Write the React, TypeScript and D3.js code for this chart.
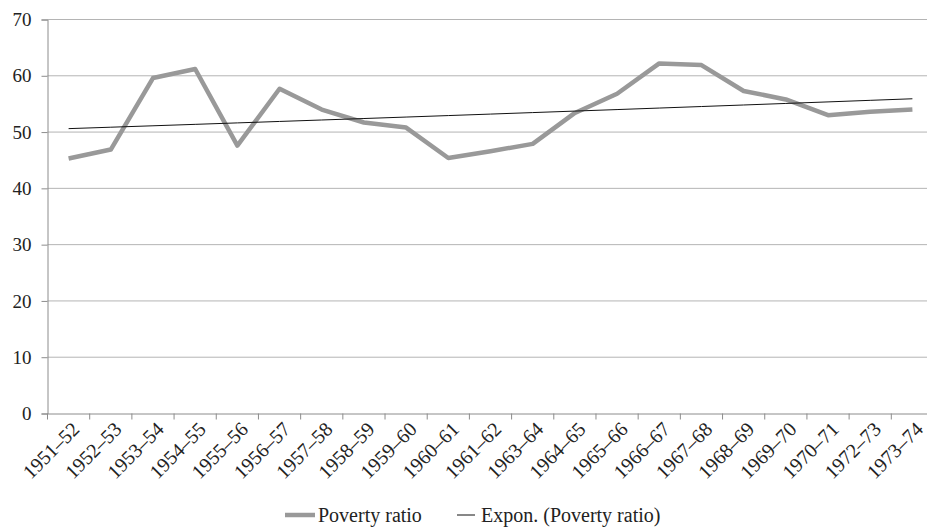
// Poverty ratio line chart with exponential trend
import React, { useEffect, useRef } from "react";
import * as d3 from "d3";

const years = [
  "1951–52", "1952–53", "1953–54", "1954–55", "1955–56", "1956–57", "1957–58",
  "1958–59", "1959–60", "1960–61", "1961–62", "1963–64", "1964–65", "1965–66",
  "1966–67", "1967–68", "1968–69", "1969–70", "1970–71", "1972–73", "1973–74",
];
const povertyRatio = [
  45.3, 46.9, 59.6, 61.2, 47.6, 57.7, 54.0, 51.7, 50.8, 45.4, 46.6, 47.9, 53.4,
  56.8, 62.2, 61.9, 57.3, 55.8, 53.0, 53.6, 54.0,
];
const yTicks = [0, 10, 20, 30, 40, 50, 60, 70];

// Excel-style exponential trendline: ln(y) = ln(a) + b*x, x = 1..n
const expFit = (vals: number[]) => {
  const n = vals.length;
  const xs = vals.map((_, i) => i + 1);
  const ls = vals.map((v) => Math.log(v));
  const mx = d3.mean(xs) as number;
  const ml = d3.mean(ls) as number;
  let num = 0, den = 0;
  for (let i = 0; i < n; i++) {
    num += (xs[i] - mx) * (ls[i] - ml);
    den += (xs[i] - mx) ** 2;
  }
  const b = num / den;
  const a = Math.exp(ml - b * mx);
  return xs.map((x) => a * Math.exp(b * x));
};

export default function App() {
  const ref = useRef<SVGSVGElement>(null);

  useEffect(() => {
    const width = 927;
    const height = 527;
    const left = 47.5;
    const right = 933.5;
    const top = 19.5;
    const bottom = 413.5;
    const font = "'Liberation Serif', 'Times New Roman', serif";

    const svg = d3.select(ref.current);
    svg.selectAll("*").remove();
    svg.attr("width", width).attr("height", height)
      .style("font-family", font);

    const x = d3.scaleBand().domain(years).range([left, right]);
    const y = d3.scaleLinear().domain([0, 70]).range([bottom, top]);
    const cx = (d: string) => (x(d) as number) + x.bandwidth() / 2;

    // gridlines
    svg.append("g")
      .selectAll("line")
      .data(yTicks.filter((t) => t > 0))
      .enter().append("line")
      .attr("x1", left).attr("x2", width)
      .attr("y1", (d) => y(d)).attr("y2", (d) => y(d))
      .attr("stroke", "#b4b4b4").attr("stroke-width", 1);

    // y axis
    const yAxis = svg.append("g")
      .attr("transform", `translate(${left},0)`)
      .call(d3.axisLeft(y).tickValues(yTicks).tickSize(6).tickPadding(10));
    yAxis.attr("font-family", null).attr("font-size", null);
    yAxis.select(".domain").attr("stroke", "#8c8c8c");
    yAxis.selectAll(".tick line").attr("stroke", "#8c8c8c");
    yAxis.selectAll(".tick text")
      .style("font-family", font).style("font-size", "19px").attr("fill", "#222");

    // x axis
    const xAxis = svg.append("g")
      .attr("transform", `translate(0,${bottom})`)
      .call(d3.axisBottom(x).tickSize(0).tickFormat(() => ""));
    xAxis.select(".domain").attr("stroke", "#8c8c8c");
    svg.append("g")
      .selectAll("line")
      .data(d3.range(years.length + 1))
      .enter().append("line")
      .attr("x1", (i) => left + i * x.bandwidth())
      .attr("x2", (i) => left + i * x.bandwidth())
      .attr("y1", bottom).attr("y2", bottom + 6)
      .attr("stroke", "#8c8c8c");

    svg.append("g")
      .selectAll("text")
      .data(years)
      .enter().append("text")
      .attr("transform", (d) => `translate(${cx(d) + 12},${bottom + 17}) rotate(-45)`)
      .attr("text-anchor", "end")
      .style("font-family", font).style("font-size", "20px").attr("fill", "#222")
      .text((d) => d);

    // poverty ratio line
    const line = d3.line<number>()
      .x((_, i) => cx(years[i]))
      .y((d) => y(d));

    svg.append("path")
      .datum(povertyRatio)
      .attr("d", line)
      .attr("fill", "none")
      .attr("stroke", "#999999")
      .attr("stroke-width", 4.5)
      .attr("stroke-linejoin", "round");

    // trend line
    svg.append("path")
      .datum(expFit(povertyRatio))
      .attr("d", line)
      .attr("fill", "none")
      .attr("stroke", "#111")
      .attr("stroke-width", 1);

    // legend
    const lg = svg.append("g");
    lg.append("line")
      .attr("x1", 285).attr("x2", 315).attr("y1", 515).attr("y2", 515)
      .attr("stroke", "#999999").attr("stroke-width", 4.5);
    lg.append("text")
      .attr("x", 318).attr("y", 522)
      .style("font-family", font).style("font-size", "20px").attr("fill", "#222")
      .text("Poverty ratio");
    lg.append("line")
      .attr("x1", 457).attr("x2", 475).attr("y1", 515).attr("y2", 515)
      .attr("stroke", "#111").attr("stroke-width", 1);
    lg.append("text")
      .attr("x", 481).attr("y", 522)
      .style("font-family", font).style("font-size", "20px").attr("fill", "#222")
      .text("Expon. (Poverty ratio)");
  }, []);

  return (
    <div style={{ position: "fixed", left: 0, top: 0, background: "#fff" }}>
      <svg ref={ref} style={{ display: "block" }} />
    </div>
  );
}
